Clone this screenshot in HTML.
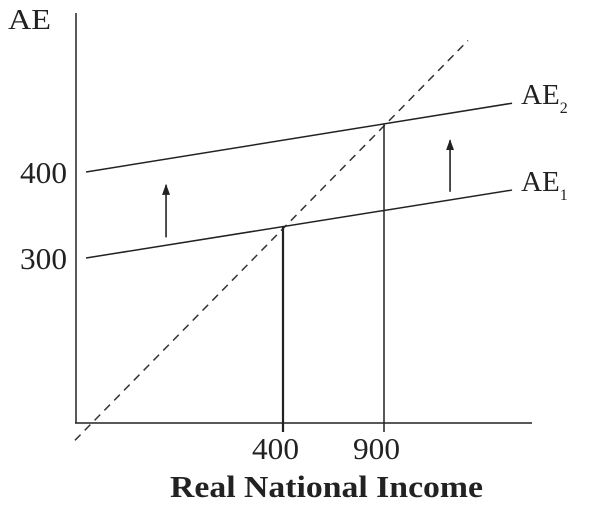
<!DOCTYPE html>
<html><head><meta charset="utf-8"><style>
html,body{margin:0;padding:0;background:#fff;}
svg{display:block;font-family:"Liberation Serif",serif;}
</style></head><body>
<svg id="c" width="604" height="508" viewBox="0 0 604 508">
<defs><marker id="ah" markerWidth="12" markerHeight="8" refX="10" refY="4" orient="auto" markerUnits="userSpaceOnUse"><path d="M0,0 L11,4 L0,8 Z" fill="#222"/></marker></defs>
</svg>
<script>
const xTicks=[400,900];
const yTicks=[300,400];
const ae1=[[-575,300],[1534,379]];
const ae2=[[-575,400],[1534,480]];
const diag=[[-630,88],[1316,553]];
const equilibria=[[400,336.5],[900,456]];
const shiftArrows=[[-179,324,385],[1227,377,437]];
const seriesLabels=["AE","AE"];
const seriesSubs=["1","2"];

const X=v=>283+(v-400)*0.202;
const Y=v=>172-(v-400)*0.86;
const svg=document.getElementById('c');
const NS='http://www.w3.org/2000/svg';
function mk(t,a,p){const e=document.createElementNS(NS,t);for(const k in a)e.setAttribute(k,a[k]);(p||svg).appendChild(e);return e;}

let e;
e=mk('line',{x1:76,y1:13,x2:76,y2:423,stroke:'#222','stroke-width':1.5});


e=mk('line',{x1:75,y1:423,x2:532,y2:423,stroke:'#222','stroke-width':1.5});



e=mk('line',{x1:X(diag[0][0]),y1:Y(diag[0][1]),x2:X(diag[1][0]),y2:Y(diag[1][1]),stroke:'#333','stroke-width':1.5,'stroke-dasharray':'8,6'});



[ae1,ae2].forEach((s,i)=>{
  const l=mk('line',{x1:X(s[0][0]),y1:Y(s[0][1]),x2:X(s[1][0]),y2:Y(s[1][1]),stroke:'#222','stroke-width':1.5});
  
  
  const t=mk('text',{x:X(s[1][0])+9,y:Y(s[1][1])+1,'font-size':29,fill:'#222'});
  
  
  t.textContent=seriesLabels[i];
  const sb=mk('tspan',{'font-size':16,dy:9},t);sb.textContent=seriesSubs[i];
});

equilibria.forEach((p,i)=>{
  const l=mk('line',{x1:X(p[0]),y1:Y(p[1]),x2:X(p[0]),y2:432,stroke:'#222','stroke-width':i==0?2.2:1.5});
  
  
});

shiftArrows.forEach((a,i)=>{
  const l=mk('line',{x1:X(a[0]),y1:Y(a[1]),x2:X(a[0]),y2:Y(a[2]),stroke:'#222','stroke-width':1.6,'marker-end':'url(#ah)'});
  
  
});

xTicks.forEach(v=>{
  const t=mk('text',{x:X(v)-31,y:459,'font-size':31,textLength:47,lengthAdjust:'spacingAndGlyphs',fill:'#222'});
  
  
  t.textContent=v;
});
yTicks.forEach(v=>{
  const t=mk('text',{x:20,y:Y(v)+11,'font-size':31,textLength:47,lengthAdjust:'spacingAndGlyphs',fill:'#222'});
  
  
  t.textContent=v;
});
e=mk('text',{x:8,y:29,'font-size':29,textLength:43,lengthAdjust:'spacingAndGlyphs',fill:'#222'});


e.textContent='AE';
e=mk('text',{x:170,y:497,'font-size':31,'font-weight':'bold',textLength:313,lengthAdjust:'spacingAndGlyphs',fill:'#222'});


e.textContent='Real National Income';
</script>
</body></html>
